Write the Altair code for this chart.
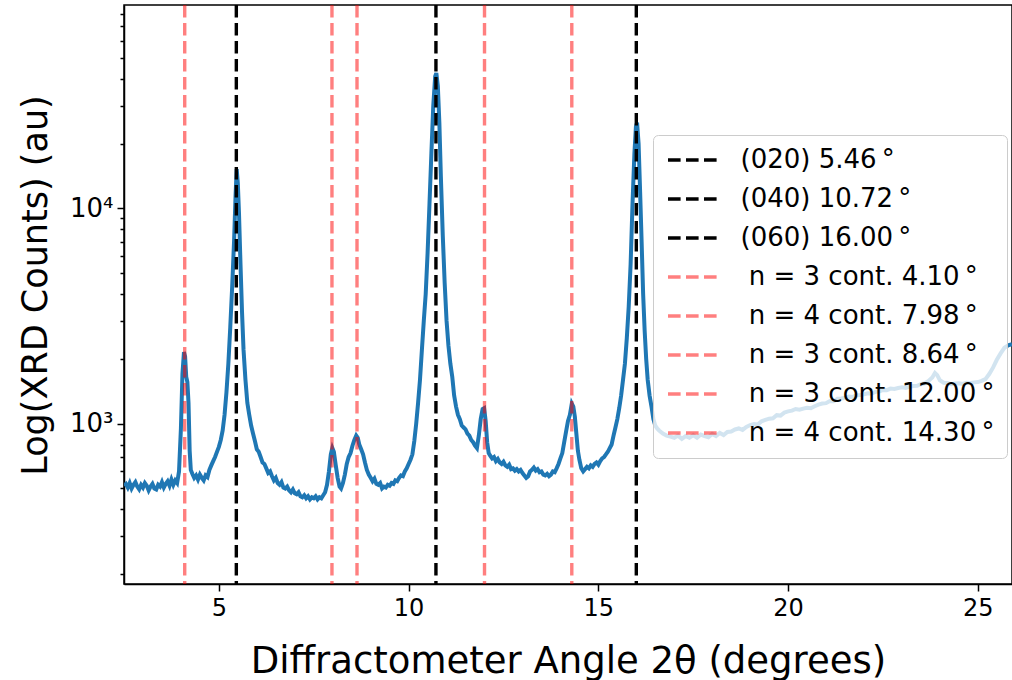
import altair as alt
import pandas as pd

# ---- XRD curve ----
angle = [
    2.50, 2.55, 2.60, 2.65, 2.70, 2.75, 2.80, 2.85, 2.90, 2.95,
    3.00, 3.05, 3.10, 3.15, 3.20, 3.25, 3.30, 3.35, 3.40, 3.45,
    3.50, 3.55, 3.60, 3.65, 3.70, 3.75, 3.80, 3.85, 3.90, 3.95,
    4.00, 4.04, 4.08, 4.11, 4.14, 4.17, 4.20, 4.23, 4.26, 4.30,
    4.35, 4.40, 4.45, 4.50, 4.55, 4.60, 4.65, 4.70, 4.75, 4.80,
    4.85, 4.90, 4.95, 5.00, 5.05, 5.10, 5.15, 5.20, 5.25, 5.30,
    5.35, 5.40, 5.44, 5.47, 5.50, 5.53, 5.57, 5.61, 5.65, 5.70,
    5.75, 5.80, 5.85, 5.90, 5.95, 6.00, 6.05, 6.10, 6.15, 6.20,
    6.25, 6.30, 6.35, 6.40, 6.45, 6.50, 6.55, 6.60, 6.65, 6.70,
    6.75, 6.80, 6.85, 6.90, 6.95, 7.00, 7.05, 7.10, 7.15, 7.20,
    7.25, 7.30, 7.35, 7.40, 7.45, 7.50, 7.55, 7.60, 7.65, 7.70,
    7.75, 7.80, 7.85, 7.90, 7.95, 7.99, 8.03, 8.08, 8.13, 8.18,
    8.22, 8.27, 8.32, 8.37, 8.42, 8.47, 8.52, 8.57, 8.62, 8.66,
    8.70, 8.75, 8.80, 8.85, 8.90, 8.95, 9.00, 9.05, 9.10, 9.15,
    9.20, 9.25, 9.30, 9.35, 9.40, 9.45, 9.50, 9.55, 9.60, 9.65,
    9.70, 9.75, 9.80, 9.85, 9.90, 9.95, 10.00, 10.05, 10.10, 10.15,
    10.20, 10.25, 10.30, 10.35, 10.40, 10.45, 10.50, 10.55, 10.60, 10.65,
    10.70, 10.73, 10.77, 10.81, 10.85, 10.90, 10.95, 11.00, 11.05, 11.10,
    11.15, 11.20, 11.25, 11.30, 11.35, 11.40, 11.45, 11.50, 11.55, 11.60,
    11.65, 11.70, 11.75, 11.80, 11.85, 11.90, 11.95, 11.99, 12.03, 12.07,
    12.11, 12.15, 12.20, 12.25, 12.30, 12.35, 12.40, 12.45, 12.50, 12.55,
    12.60, 12.65, 12.70, 12.75, 12.80, 12.85, 12.90, 12.95, 13.00, 13.05,
    13.10, 13.15, 13.20, 13.25, 13.30, 13.35, 13.40, 13.45, 13.50, 13.55,
    13.60, 13.65, 13.70, 13.75, 13.80, 13.85, 13.90, 13.95, 14.00, 14.05,
    14.10, 14.15, 14.20, 14.25, 14.30, 14.34, 14.38, 14.42, 14.46, 14.50,
    14.55, 14.60, 14.65, 14.70, 14.75, 14.80, 14.85, 14.90, 14.95, 15.00,
    15.05, 15.10, 15.15, 15.20, 15.25, 15.30, 15.35, 15.40, 15.45, 15.50,
    15.55, 15.60, 15.65, 15.70, 15.75, 15.80, 15.85, 15.90, 15.95, 15.99,
    16.02, 16.06, 16.10, 16.14, 16.18, 16.22, 16.26, 16.30, 16.35, 16.40,
    16.45, 16.50, 16.55, 16.60, 16.70, 16.80, 16.90, 17.00, 17.10, 17.20,
    17.30, 17.40, 17.50, 17.60, 17.70, 17.80, 17.90, 18.00, 18.10, 18.20,
    18.30, 18.40, 18.50, 18.60, 18.70, 18.80, 18.90, 19.00, 19.10, 19.20,
    19.30, 19.40, 19.50, 19.60, 19.70, 19.80, 19.90, 20.00, 20.10, 20.20,
    20.30, 20.40, 20.50, 20.60, 20.70, 20.80, 20.90, 21.00, 21.10, 21.20,
    21.30, 21.40, 21.50, 21.60, 21.70, 21.80, 21.90, 22.00, 22.10, 22.20,
    22.30, 22.40, 22.50, 22.60, 22.70, 22.80, 22.90, 23.00, 23.10, 23.20,
    23.30, 23.40, 23.50, 23.60, 23.70, 23.80, 23.87, 23.93, 24.00, 24.10,
    24.20, 24.30, 24.40, 24.50, 24.60, 24.70, 24.80, 24.90, 25.00, 25.10,
    25.20, 25.30, 25.40, 25.50, 25.60, 25.70, 25.80, 25.90,
]
counts = [
    515, 525, 505, 530, 500, 520, 535, 510, 495, 520,
    505, 530, 515, 490, 510, 525, 500, 495, 520, 510,
    535, 505, 525, 540, 515, 550, 520, 545, 530, 600,
    950, 1700, 2150, 2050, 1650, 1560, 1250, 750, 610, 585,
    560, 575, 550, 580, 560, 545, 575, 565, 610, 640,
    670, 700, 740, 780, 840, 930, 1100, 1400, 1900, 2800,
    4300, 7000, 11500, 15200, 13000, 9500, 5500, 3300, 2200, 1600,
    1250, 1100, 980, 900, 830, 760, 740, 700, 660, 650,
    620, 590, 600, 570, 545, 560, 530, 520, 535, 505,
    500, 510, 490, 480, 495, 475, 470, 480, 460, 455,
    465, 450, 460, 445, 455, 450, 460, 445, 455, 450,
    465, 480, 520, 600, 720, 770, 740, 640, 560, 510,
    500, 530, 580, 650, 700, 730, 790, 840, 880, 860,
    800, 760, 720, 660, 610, 580, 560, 540, 555, 525,
    520, 530, 500, 510, 505, 520, 515, 530, 525, 545,
    540, 560, 575, 570, 600, 620, 650, 680, 720, 830,
    1000, 1250, 1600, 2200, 3000, 4000, 6200, 10500, 18000, 30000,
    41000, 42500, 37000, 25000, 14000, 7500, 4500, 3000, 2300, 1900,
    1650, 1350, 1200, 1100, 1050, 980, 960, 940, 900, 880,
    840, 820, 790, 770, 880, 1050, 1170, 1180, 1030, 820,
    730, 710, 690, 700, 670, 685, 660, 650, 665, 640,
    630, 645, 615, 620, 605, 615, 600, 610, 590, 575,
    560, 570, 600, 610, 625, 605, 615, 595, 600, 580,
    575, 585, 570, 580, 600, 595, 620, 650, 690, 730,
    820, 920, 1030, 1100, 1240, 1200, 1080, 900, 750, 680,
    620, 600, 615, 630, 620, 640, 630, 650, 660, 645,
    670, 690, 700, 720, 740, 770, 800, 880, 960, 1050,
    1180, 1350, 1600, 1900, 2500, 3500, 5500, 10500, 18000, 24000,
    25000, 20000, 12000, 7000, 4000, 2700, 2000, 1600, 1350, 1200,
    1050, 980, 950, 930, 900, 880, 870, 860, 880, 850,
    875, 860, 885, 860, 890, 875, 865, 895, 875, 905,
    885, 915, 920, 940, 950, 935, 965, 985, 995, 990,
    1025, 1040, 1055, 1060, 1095, 1090, 1125, 1140, 1150, 1170,
    1160, 1175, 1185, 1180, 1205, 1225, 1240, 1245, 1275, 1270,
    1305, 1310, 1320, 1335, 1330, 1355, 1360, 1370, 1385, 1380,
    1405, 1410, 1435, 1430, 1455, 1450, 1465, 1475, 1465, 1485,
    1495, 1500, 1525, 1540, 1580, 1640, 1720, 1680, 1590, 1550,
    1545, 1525, 1535, 1540, 1530, 1550, 1545, 1555, 1560, 1580,
    1610, 1700, 1820, 1980, 2120, 2250, 2310, 2340,
]

# ---- reference lines ----
line_pos = [5.46, 10.72, 16.00, 4.10, 7.98, 8.64, 12.00, 14.30]
line_labels = [
    "(020) 5.46\u2009°",
    "(040) 10.72\u2009°",
    "(060) 16.00\u2009°",
    "\u200b\u00a0n = 3 cont. 4.10\u2009°",
    "\u200b\u00a0n = 4 cont. 7.98\u2009°",
    "\u200b\u00a0n = 3 cont. 8.64\u2009°",
    "\u200b\u00a0n = 3 cont. 12.00\u2009°",
    "\u200b\u00a0n = 4 cont. 14.30\u2009°",
]
line_colors = ["#000000"] * 3 + ["rgba(255,0,0,0.5)"] * 5

x_ticks = [5, 10, 15, 20, 25]
y_ticks = [200, 300, 400, 500, 600, 700, 800, 900,
           1000, 2000, 3000, 4000, 5000, 6000, 7000, 8000, 9000,
           10000, 20000, 30000, 40000, 50000, 60000, 70000, 80000]

curve_df = pd.DataFrame({"angle": angle, "counts": counts})
rule_df = pd.DataFrame({"pos": line_pos, "label": line_labels})

FONT = "DejaVu Sans"
xscale = alt.Scale(domain=[2.5, 25.9], nice=False, zero=False)
yscale = alt.Scale(type="log", domain=[180, 88000], nice=False)

curve = alt.Chart(curve_df).mark_line(
    color="#1f77b4", strokeWidth=4, clip=True
).encode(
    x=alt.X("angle:Q", scale=xscale,
            axis=alt.Axis(values=x_ticks, title="Diffractometer Angle 2θ (degrees)",
                          tickSize=7, labelPadding=5, labelFontSize=24,
                          titleFontSize=37, titleY=88, titleBaseline="alphabetic",
                          labelFlush=False)),
    y=alt.Y("counts:Q", scale=yscale,
            axis=alt.Axis(values=y_ticks,
                          labelExpr="datum.value == 1000 ? '10³' : datum.value == 10000 ? '10⁴' : ''",
                          tickSize={"condition": {"test": "datum.value == 1000 || datum.value == 10000", "value": 7}, "value": 4},
                          labelFontSize=26, labelPadding=4, labelOverlap=False,
                          title="Log(XRD Counts) (au)", titleFontSize=35,
                          titleX=-89, titleY=280, titleBaseline="middle", titleAngle=-90)),
)

rules = alt.Chart(rule_df).mark_rule(
    strokeWidth=3.4, strokeDash=[12.6, 5.4]
).encode(
    x=alt.X("pos:Q", scale=xscale),
    color=alt.Color(
        "label:N",
        scale=alt.Scale(domain=line_labels, range=line_colors),
        legend=alt.Legend(
            title=None, orient="none", legendX=529, legendY=130,
            symbolType="M-2.65,0H2.65", symbolSize=400, symbolStrokeWidth=3.4,
            symbolDash=[12.6, 5.4], symbolOffset=16.5, labelOffset=33,
            labelFont=FONT, labelFontSize=26, labelColor="black", labelLimit=500,
            rowPadding=13, padding=12, fillColor="rgba(255,255,255,0.8)",
            strokeColor="#cccccc", cornerRadius=5,
        ),
    ),
)

chart = alt.layer(curve, rules).properties(
    width=888, height=579,
    padding={"left": 124, "top": 5, "right": 0, "bottom": 96},
    autosize=alt.AutoSizeParams(type="none"),
).configure(
    background="white"
).configure_view(
    stroke="black", strokeWidth=1.5
).configure_axis(
    grid=False, domainColor="black", domainWidth=1.5, tickColor="black", tickWidth=1.5,
    labelFont=FONT, titleFont=FONT, labelColor="black", titleColor="black",
    titleFontWeight="normal",
)

chart.save("out.html", embed_options={"renderer": "svg", "actions": False})
